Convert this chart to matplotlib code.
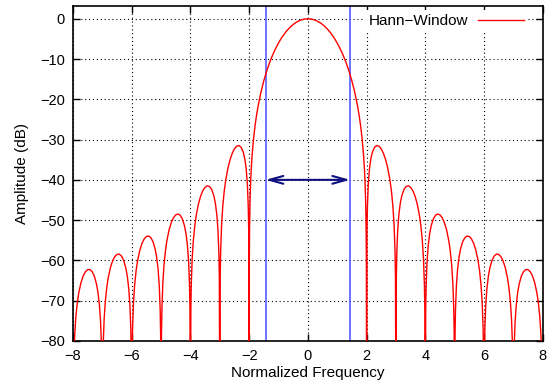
import numpy as np
import matplotlib
matplotlib.use("Agg")
import matplotlib.pyplot as plt

plt.rcParams['font.family'] = ['Liberation Sans', 'DejaVu Sans']

# main lobe, positive half; the curve is symmetric around 0
main_freq = [0.0, 0.1, 0.15, 0.25, 0.3, 0.4, 0.5, 0.6, 0.7, 0.75, 0.8, 0.9, 1.0, 1.1, 1.2, 1.25, 1.3, 1.4,
             1.5, 1.6, 1.7, 1.75, 1.8, 1.85, 1.9, 1.93, 1.95, 1.97, 1.985, 1.995]
main_db = [0.0, -0.06, -0.13, -0.35, -0.51, -0.91, -1.42, -2.07, -2.84, -3.27, -3.75, -4.80, -6.02, -7.42,
           -9.01, -9.89, -10.84, -12.95, -15.4, -18.32, -21.92, -24.1, -26.67, -29.83, -34.05, -37.59,
           -40.81, -45.55, -51.80, -61.5]

# side lobes: position inside each lobe (offset from the null at its left) and level in dB
lobe_start = [2, 3, 4, 5, 6, 7]
lobe_offset = [0.015, 0.03, 0.06, 0.1, 0.15, 0.2, 0.275, 0.35, 0.425, 0.5,
               0.575, 0.65, 0.725, 0.8, 0.85, 0.9, 0.94, 0.97, 0.985]
lobe2_db = [-52.28, -46.51, -40.99, -37.24, -34.63, -33.10, -31.88, -31.47, -31.65, -32.30,
            -33.41, -35.00, -37.19, -40.21, -42.95, -46.79, -51.53, -57.79, -63.95]
lobe3_db = [-64.23, -58.36, -52.66, -48.67, -45.78, -43.98, -42.39, -41.64, -41.49, -41.85,
            -42.67, -44.00, -45.94, -48.73, -51.32, -55.02, -59.64, -65.83, -71.94]
lobe4_db = [-72.15, -66.24, -60.46, -56.38, -53.37, -51.45, -49.69, -48.78, -48.48, -48.70,
            -49.38, -50.58, -52.39, -55.05, -57.57, -61.19, -65.75, -71.90, -77.99]
lobe5_db = [-78.15, -72.22, -66.40, -62.26, -59.18, -57.20, -55.34, -54.34, -53.95, -54.07,
            -54.67, -55.79, -57.52, -60.11, -62.57, -66.14, -70.67, -76.78, -82.86]
lobe6_db = [-82.99, -77.05, -71.20, -67.03, -63.90, -61.88, -59.96, -58.89, -58.44, -58.51,
            -59.05, -60.11, -61.79, -64.32, -66.76, -70.29, -74.79, -80.89, -86.95]
lobe7_db = [-87.07, -81.11, -75.25, -71.04, -67.89, -65.83, -63.87, -62.76, -62.27, -62.29,
            -62.79, -63.81, -65.45, -67.95, -70.35, -73.86, -78.34, -84.42, -90.48]
null_db = -100

band_edge = 1.44
arrow_level = -40

# assemble the positive half, then mirror it
f = list(main_freq)
a = list(main_db)
for n, lobe in zip(lobe_start, [lobe2_db, lobe3_db, lobe4_db, lobe5_db, lobe6_db, lobe7_db]):
    f.append(n)
    a.append(null_db)
    f += [n + d for d in lobe_offset]
    a += lobe
f.append(8)
a.append(null_db)
f = np.array(f)
a = np.array(a)
x = np.concatenate([-f[::-1], f[1:]])
y = np.concatenate([a[::-1], a[1:]])

fig = plt.figure(figsize=(5.5, 3.91), dpi=100)
ax = fig.add_axes([0.1327, 0.128, 0.854, 0.857])

ax.plot(x, y, color='red', lw=1.0, label='Hann\u2212Window', zorder=3)
ax.axvline(-band_edge, color='#5a5aff', lw=1.2, zorder=2)
ax.axvline(band_edge, color='#5a5aff', lw=1.2, zorder=2)
ax.annotate('', xy=(band_edge, arrow_level), xytext=(-band_edge, arrow_level),
            arrowprops=dict(arrowstyle='<->,head_length=1.0,head_width=0.28', color='#101080', lw=1.5,
                            shrinkA=0, shrinkB=0), zorder=4)

ax.set_xlim(-8, 8)
ax.set_ylim(-80, 3.2)
ax.set_xticks(np.arange(-8, 9, 2))
ax.set_yticks(np.arange(-80, 1, 10))
ax.set_xticklabels([str(v).replace('-', '\u2212') for v in range(-8, 9, 2)])
ax.set_yticklabels([str(v).replace('-', '\u2212') for v in range(-80, 1, 10)])
ax.tick_params(direction='in', top=True, right=True, length=5, width=1, labelsize=10.5, pad=6)
ax.grid(True, color='black', linestyle=(0, (1, 2.5)), lw=0.8)
for s in ax.spines.values():
    s.set_linewidth(1.2)

ax.set_xlabel('Normalized Frequency', fontsize=11, labelpad=2)
ax.set_ylabel('Amplitude (dB)', fontsize=11, labelpad=7.5)

leg = ax.legend(loc='upper right', bbox_to_anchor=(0.969, 0.989), frameon=True, fancybox=False,
                fontsize=11, markerfirst=False, handlelength=2.95, borderaxespad=0,
                borderpad=0.3, handletextpad=0.65)
leg.get_frame().set_edgecolor('none')
leg.get_frame().set_facecolor('white')
leg.get_frame().set_alpha(1)

fig.savefig('out.png', dpi=100)
